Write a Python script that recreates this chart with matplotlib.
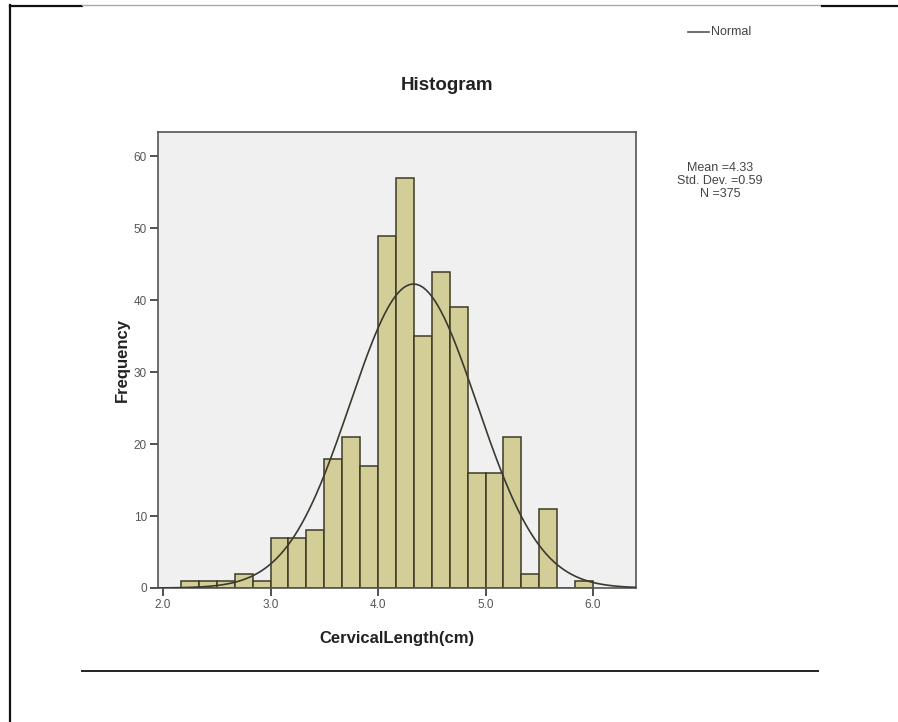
import numpy as np
import matplotlib
matplotlib.use("Agg")
import matplotlib.pyplot as plt
from matplotlib.lines import Line2D

plt.rcParams['font.family'] = ['Liberation Sans', 'DejaVu Sans']

# Data
bin_edges = [2.0 + k / 6 for k in range(1, 25)]  # 2.167 ... 6.0
counts = [1, 1, 1, 2, 1, 7, 7, 8, 18, 21, 17, 49, 57, 35, 44, 39, 16, 16, 21, 2, 11, 0, 1]
mean_val = 4.33
std_val = 0.59
n_val = 375
x_ticks = [2.0, 3.0, 4.0, 5.0, 6.0]
y_ticks = [0, 10, 20, 30, 40, 50, 60]

W, H = 898, 722
fig = plt.figure(figsize=(W / 100, H / 100), dpi=100)
fig.patch.set_facecolor('white')

def fx(px):
    return px / W

def fy(py):
    return 1 - py / H

ax = fig.add_axes([fx(158), fy(588), fx(636) - fx(158), fy(132) - fy(588)])
ax.set_facecolor('#F0F0F0')

edges = np.array(bin_edges)
lefts = edges[:-1]
widths = np.diff(edges)
ax.bar(lefts, counts, width=widths, align='edge', color='#D3CE97',
       edgecolor='#3D3A26', linewidth=1.1, zorder=2)

xs = np.linspace(1.953, 6.40, 400)
bw = 1 / 6
pdf = n_val * bw / (std_val * np.sqrt(2 * np.pi)) * np.exp(-0.5 * ((xs - mean_val) / std_val) ** 2)
ax.plot(xs, pdf, color='#3A3A30', linewidth=1.2, zorder=3)

ax.set_xlim(1.953, 6.40)
ax.set_ylim(0, 63.4)
ax.set_xticks(x_ticks)
ax.set_xticklabels([f"{t:.1f}" for t in x_ticks])
ax.set_yticks(y_ticks)
ax.tick_params(axis='both', direction='out', length=6, width=1.2, color='#333333',
               labelcolor='#555555', labelsize=8.5, pad=2)
for s in ax.spines.values():
    s.set_color('#555555')
    s.set_linewidth(1.2)

ax.set_xlabel('CervicalLength(cm)', fontsize=12, fontweight='bold', color='#222222', labelpad=14)
ax.set_ylabel('Frequency', fontsize=12, fontweight='bold', color='#222222', labelpad=3)

fig.text(fx(447), fy(85), 'Histogram', ha='center', va='center', fontsize=13.5,
         fontweight='bold', color='#222222')

# legend
fig.add_artist(Line2D([fx(688), fx(709)], [fy(32), fy(32)], color='#555555', linewidth=1.2))
fig.text(fx(711), fy(32), 'Normal', ha='left', va='center', fontsize=9, color='#444444')

# stats
fig.text(fx(720), fy(181), f'Mean ={mean_val:.2f}\nStd. Dev. ={std_val:.2f}\nN ={n_val}',
         ha='center', va='center', fontsize=9, color='#444444', linespacing=1.08)

# page border lines
fig.add_artist(Line2D([fx(10), fx(10)], [fy(5), fy(722)], color='#111111', linewidth=1.6))
fig.add_artist(Line2D([fx(10), fx(82)], [fy(6), fy(6)], color='#111111', linewidth=1.6))
fig.add_artist(Line2D([fx(82), fx(820)], [fy(5), fy(5)], color='#AAAAAA', linewidth=1.0))
fig.add_artist(Line2D([fx(822), fx(898)], [fy(6), fy(6)], color='#111111', linewidth=1.6))
fig.add_artist(Line2D([fx(82), fx(818)], [fy(671), fy(671)], color='#222222', linewidth=1.4))

fig.savefig('out.png', dpi=100, facecolor='white')
